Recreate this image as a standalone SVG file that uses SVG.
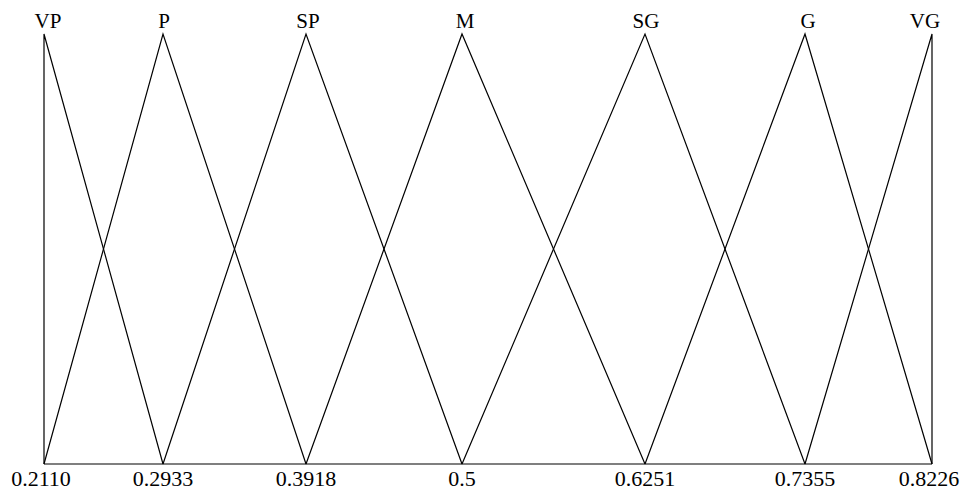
<svg xmlns="http://www.w3.org/2000/svg" width="962" height="495" viewBox="0 0 962 495">
<style>
.l{fill:none;stroke:#000;stroke-width:1.2}
text{font-family:"Liberation Serif","Times New Roman",serif;font-size:21px;fill:#000;text-anchor:middle}
#ticks text{font-size:22px}
</style>
<rect width="962" height="495" fill="#fff"/>
<g id="connectors">
<line class="l" x1="44" y1="464" x2="932" y2="464" stroke-width="1.5"/>
</g>
<g id="VP"><polyline class="l" points="44,464 44,34 163,464"/><text x="48" y="28">VP</text></g>
<g id="P"><polyline class="l" points="44,464 163,34 306,464"/><text x="164" y="28">P</text></g>
<g id="SP"><polyline class="l" points="163,464 306,34 462,464"/><text x="308" y="28">SP</text></g>
<g id="M"><polyline class="l" points="306,464 462,34 645,464"/><text x="465" y="28">M</text></g>
<g id="SG"><polyline class="l" points="462,464 645,34 805,464"/><text x="646" y="28">SG</text></g>
<g id="G"><polyline class="l" points="645,464 805,34 932,464"/><text x="808" y="28">G</text></g>
<g id="VG"><polyline class="l" points="805,464 932,34 932,464"/><text x="925" y="28">VG</text></g>
<g id="ticks">
<text x="41" y="486">0.2110</text>
<text x="163" y="486">0.2933</text>
<text x="306" y="486">0.3918</text>
<text x="462" y="486">0.5</text>
<text x="645" y="486">0.6251</text>
<text x="805" y="486">0.7355</text>
<text x="929" y="486">0.8226</text>
</g>
</svg>
